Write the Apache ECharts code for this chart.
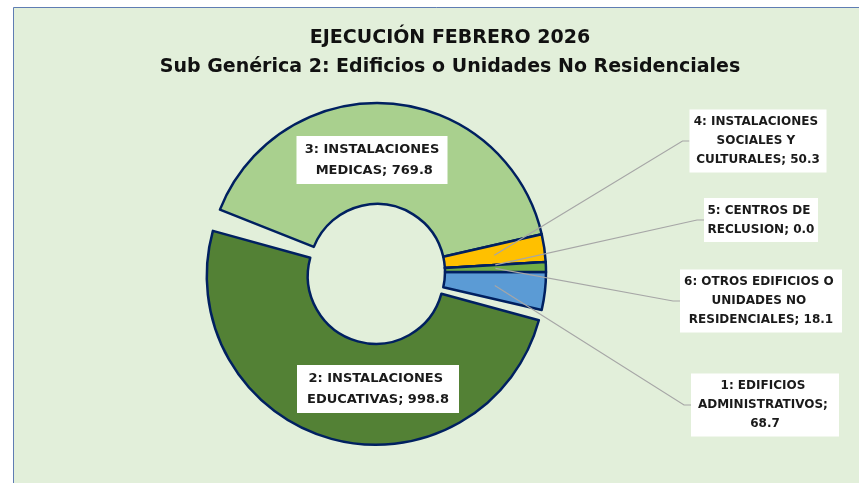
<!DOCTYPE html>
<html><head><meta charset="utf-8">
<script src="https://cdn.jsdelivr.net/npm/echarts@6/dist/echarts.min.js"></script>
<style>html,body{margin:0;padding:0;background:#fff}#c{width:859px;height:483px}</style>
</head><body><div id="c"></div>
<script>
// ---- data ----
const titleLines = ['EJECUCIÓN FEBRERO 2026', 'Sub Genérica 2: Edificios o Unidades No Residenciales'];
const categories = [
  '1: EDIFICIOS ADMINISTRATIVOS',
  '2: INSTALACIONES EDUCATIVAS',
  '3: INSTALACIONES MEDICAS',
  '4: INSTALACIONES SOCIALES Y CULTURALES',
  '5: CENTROS DE RECLUSION',
  '6: OTROS EDIFICIOS O UNIDADES NO RESIDENCIALES'
];
const values = [68.7, 998.8, 769.8, 50.3, 0.0, 18.1];
const explodedIndex = 1;

// ---- styles / layout ----
const colors = ['#5B9BD5', '#538135', '#A9D08E', '#FFC000', '#A5A5A5', '#70AD47'];
const insideLabels = [1, 2];
const labelCenters = [[765, 405], [378, 389], [372, 160], [758, 141], [761, 220], [761, 301]];
const labelWidths = [142, 156, 145, 131, 108, 156];
const CX = 377, CY = 272, R0 = 68, R1 = 169, EXPLODE = 4;

const total = values.reduce((a, b) => a + b, 0);
let acc = 0;
const midAngles = values.map(v => { const m = (acc + v / 2) / total * 2 * Math.PI; acc += v; return m; }); // clockwise from 3 o'clock
const centerB = [CX + EXPLODE * Math.cos(midAngles[explodedIndex]), CY + EXPLODE * Math.sin(midAngles[explodedIndex])];

const FONT = 'DejaVu Sans';
const hidden = {color: 'rgba(0,0,0,0)', borderWidth: 0};

// series A: all sectors except the exploded one, label of slice 3
// series B (drawn on top): exploded sector, its label and all outside labels with leader lines
function makeData(sectorFn, labelFn) {
  return categories.map((n, i) => {
    const inside = insideLabels.includes(i);
    const lab = labelFn(i);
    return {
      name: n,
      value: values[i],
      itemStyle: sectorFn(i) ? {color: colors[i]} : hidden,
      label: {
        show: lab, width: labelWidths[i], position: inside ? 'inside' : 'outside',
        fontSize: inside ? 13 : 12, lineHeight: inside ? 21 : 19
      },
      labelLine: {show: lab && !inside}
    };
  });
}

const common = {
  type: 'pie',
  radius: [R0, R1],
  startAngle: 0,
  clockwise: true,
  avoidLabelOverlap: false,
  silent: true,
  emphasis: {disabled: true},
  itemStyle: {borderColor: '#002060', borderWidth: 2.5},
  label: {
    formatter: p => p.name + '; ' + p.value.toFixed(1),
    overflow: 'break',
    align: 'center',
    fontFamily: FONT, fontWeight: 'bold', fontSize: 12, lineHeight: 19,
    color: '#1a1a1a', backgroundColor: '#ffffff', padding: [3, 3]
  },
  labelLine: {showAbove: true, length: 10, length2: 8, lineStyle: {color: '#A6A6A6', width: 1.2}},
  labelLayout: p => {
    const i = p.dataIndex;
    const lx = labelCenters[i][0], ly = labelCenters[i][1];
    const out = {x: lx, y: ly, align: 'center', verticalAlign: 'middle'};
    if (!insideLabels.includes(i)) {
      const rm = (R0 + R1) / 2, a = midAngles[i];
      const left = lx - p.labelRect.width / 2;
      out.labelLinePoints = [[CX + rm * Math.cos(a), CY + rm * Math.sin(a)], [left - 7, ly], [left, ly]];
    }
    return out;
  }
};

const chart = echarts.init(document.getElementById('c'), null, {renderer: 'canvas'});
chart.setOption({
  animation: false,
  backgroundColor: '#ffffff',
  graphic: [{
    type: 'rect', left: 13, top: 7, z: -10, silent: true,
    shape: {width: 860, height: 490},
    style: {fill: '#E2EFDA', stroke: '#5F7DB3', lineWidth: 1}
  }],
  title: {
    text: titleLines.join('\n'),
    left: 445, top: 19, textAlign: 'center',
    textStyle: {fontFamily: FONT, fontWeight: 'bold', fontSize: 19, lineHeight: 29, color: '#111'}
  },
  series: [
    Object.assign({}, common, {
      z: 2,
      center: [CX, CY],
      data: makeData(i => i !== explodedIndex, i => i === 2)
    }),
    Object.assign({}, common, {
      z: 3,
      center: centerB,
      padAngle: 5,
      data: makeData(i => i === explodedIndex, i => i !== 2)
    })
  ]
});
</script></body></html>
